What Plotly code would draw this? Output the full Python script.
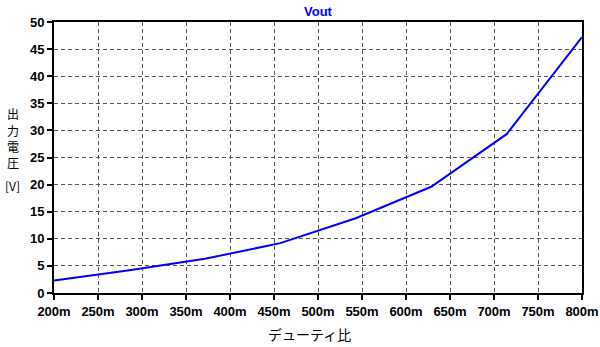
import plotly.graph_objects as go

duty = [0.2, 0.2857, 0.3714, 0.4571, 0.5429, 0.6286, 0.7143, 0.8]
vout = [2.3, 4.2, 6.3, 9.2, 13.8, 19.6, 29.3, 47.2]
x_ticks = [0.2 + 0.05 * i for i in range(13)]
x_labels = ["200m", "250m", "300m", "350m", "400m", "450m", "500m", "550m",
            "600m", "650m", "700m", "750m", "800m"]
y_ticks = list(range(0, 51, 5))
y_title_chars = ["出", "力", "電", "圧", "[V]"]
y_title_pos = [0.664, 0.598, 0.539, 0.4815, 0.3985]

fig = go.Figure()
fig.add_trace(go.Scatter(x=duty, y=vout, mode="lines",
                         line=dict(color="#0000ff", width=2), showlegend=False))

tickfont = dict(family="Liberation Sans, Arial", size=13, color="black", weight="bold")
axis_common = dict(showline=True, linecolor="black", linewidth=2, mirror=True,
                   ticks="outside", ticklen=5, tickwidth=2, tickcolor="black",
                   showgrid=True, gridcolor="#555555", griddash="4px,3px", gridwidth=1,
                   zeroline=False, tickfont=tickfont, automargin=False)
fig.update_layout(
    width=600, height=347,
    margin=dict(l=54, r=18, t=22, b=54),
    paper_bgcolor="white", plot_bgcolor="white",
    title=dict(text="<b>Vout</b>", x=0.53, xanchor="center", y=(347 - 11.5) / 347,
               yanchor="middle",
               font=dict(family="Liberation Sans, Arial", size=13, color="#0000ff")),
    xaxis=dict(range=[0.2, 0.8], tickvals=x_ticks, ticktext=x_labels, **axis_common),
    yaxis=dict(range=[0, 50], tickvals=y_ticks, **axis_common),
)
fig.add_annotation(text="デューティ比", xref="paper", yref="paper", x=0.484, y=-0.151,
                   xanchor="center", yanchor="middle", showarrow=False,
                   font=dict(family="Noto Sans CJK JP", size=14, color="black"))
for ch, yp in zip(y_title_chars, y_title_pos):
    fig.add_annotation(text=ch, xref="paper", yref="paper", x=-0.0777, y=yp,
                       xanchor="center", yanchor="middle", showarrow=False,
                       font=dict(family="Noto Sans CJK JP", size=12, color="black"))
fig.write_html("out.html", config={"displayModeBar": False},
               post_script="document.body.style.margin='0';")
